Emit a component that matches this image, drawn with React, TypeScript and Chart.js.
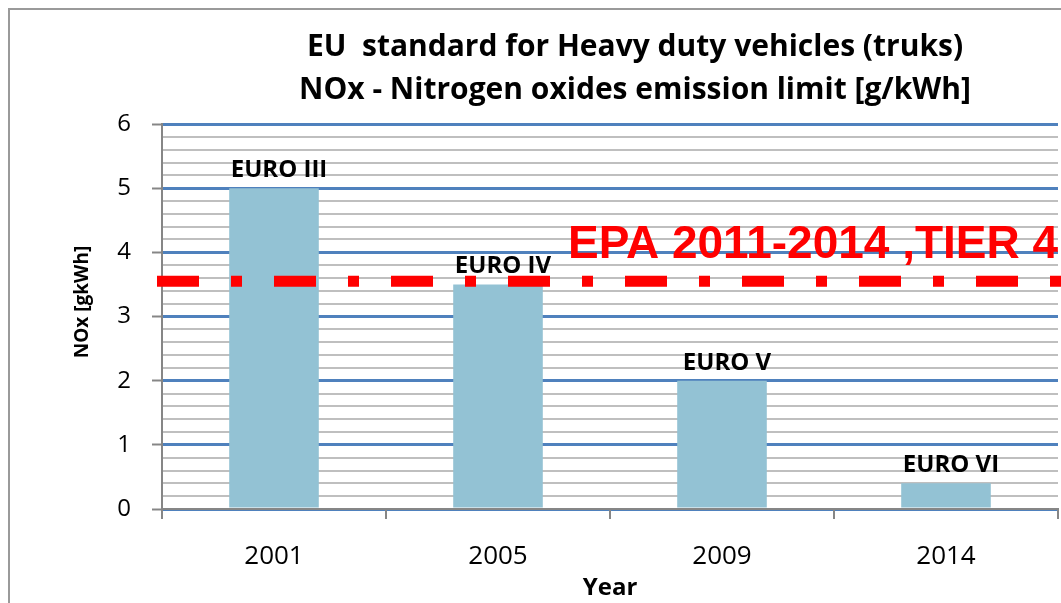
import React, { useEffect, useRef } from 'react';
import { Chart, registerables } from 'chart.js';

Chart.register(...registerables);

const categories = ['2001', '2005', '2009', '2014'];
const noxLimits = [5, 3.5, 2.0, 0.4];
const barLabels = ['EURO III', 'EURO IV', 'EURO V', 'EURO VI'];
const epaLimit = 3.55;
const epaLabel = 'EPA 2011-2014 ,TIER 4';
const titleLines = [
  'EU  standard for Heavy duty vehicles (truks)',
  'NOx - Nitrogen oxides emission limit [g/kWh]',
];
const yAxisTitle = 'NOx [gkWh]';
const xAxisTitle = 'Year';
const yMin = 0;
const yMax = 6;
const yMinorStep = 0.2;

const isMajor = (v: number) => Math.abs(v - Math.round(v)) < 1e-6;

const FONT = '"Open Sans", Lato, sans-serif';

const framePlugin = {
  id: 'frame',
  beforeDraw(chart: any) {
    const ctx = chart.ctx;
    ctx.save();
    ctx.fillStyle = '#ffffff';
    ctx.fillRect(0, 0, chart.width, chart.height);
    ctx.strokeStyle = '#9a9a9a';
    ctx.lineWidth = 2;
    ctx.strokeRect(9, 9, chart.width + 40, chart.height + 40);
    ctx.restore();
  },
};

const titlePlugin = {
  id: 'customTitle',
  afterDraw(chart: any) {
    const ctx = chart.ctx;
    ctx.save();
    ctx.fillStyle = '#000';
    ctx.font = `bold 30px ${FONT}`;
    ctx.textAlign = 'center';
    ctx.textBaseline = 'middle';
    titleLines.forEach((line, i) => {
      ctx.fillText(line, 635, 47 + i * 43);
    });
    // y axis title
    ctx.font = `bold 19px ${FONT}`;
    ctx.translate(83, 302);
    ctx.rotate(-Math.PI / 2);
    ctx.fillText(yAxisTitle, 0, 0);
    ctx.restore();
  },
};

const barLabelPlugin = {
  id: 'barLabels',
  afterDatasetsDraw(chart: any) {
    const ctx = chart.ctx;
    const meta = chart.getDatasetMeta(0);
    ctx.save();
    ctx.fillStyle = '#000';
    ctx.font = `bold 24px ${FONT}`;
    ctx.textAlign = 'center';
    ctx.textBaseline = 'alphabetic';
    meta.data.forEach((bar: any, i: number) => {
      ctx.fillText(barLabels[i], bar.x + 5, bar.y - 11);
    });
    ctx.restore();
  },
};

const epaPlugin = {
  id: 'epaLine',
  afterDatasetsDraw(chart: any) {
    const ctx = chart.ctx;
    const y = chart.scales.y.getPixelForValue(epaLimit);
    const area = chart.chartArea;
    ctx.save();
    ctx.strokeStyle = '#ff0000';
    ctx.lineWidth = 11;
    ctx.setLineDash([42, 32, 11, 32]);
    ctx.beginPath();
    ctx.moveTo(area.left - 5, y);
    ctx.lineTo(chart.width, y);
    ctx.stroke();
    ctx.setLineDash([]);
    ctx.fillStyle = '#ff0000';
    ctx.font = 'bold 46px "Liberation Sans", Arial, sans-serif';
    ctx.textAlign = 'left';
    ctx.textBaseline = 'alphabetic';
    ctx.fillText(epaLabel, 568, y - 23);
    ctx.restore();
  },
};

export default function App() {
  const canvasRef = useRef<HTMLCanvasElement | null>(null);

  useEffect(() => {
    const canvas = canvasRef.current;
    if (!canvas) return;
    const chart = new Chart(canvas, {
      type: 'bar',
      data: {
        labels: categories,
        datasets: [
          {
            label: 'NOx limit',
            data: noxLimits,
            backgroundColor: '#93C2D4',
            borderWidth: 0,
            categoryPercentage: 1,
            barPercentage: 0.4,
          },
        ],
      },
      options: {
        responsive: false,
        animation: false,
        layout: { padding: { top: 124, right: 3, bottom: 0, left: 0 } },
        plugins: {
          legend: { display: false },
          title: { display: false },
          tooltip: { enabled: false },
        },
        scales: {
          y: {
            min: yMin,
            max: yMax,
            ticks: {
              stepSize: yMinorStep,
              autoSkip: false,
              callback: (v: any) => (isMajor(Number(v)) ? String(Math.round(Number(v))) : ''),
              font: { family: FONT, size: 24 },
              color: '#000',
              padding: 21,
            },
            grid: {
              color: (c: any) => (c.tick && isMajor(c.tick.value) ? '#4F81BD' : '#BFBFBF'),
              lineWidth: (c: any) => (c.tick && isMajor(c.tick.value) ? 3 : 2),
              tickLength: 10,
              tickColor: (c: any) => (c.tick && isMajor(c.tick.value) ? '#868686' : 'rgba(0,0,0,0)'),
              tickWidth: 2,
            },
            border: { display: true, color: '#868686', width: 2 },
            title: { display: false },
            afterFit: (s: any) => {
              s.width = 162;
            },
          },
          x: {
            grid: {
              display: true,
              drawOnChartArea: false,
              tickLength: 10,
              color: '#868686',
              lineWidth: 2,
            },
            border: { display: true, color: '#868686', width: 2 },
            ticks: {
              font: { family: FONT, size: 26 },
              color: '#000',
              padding: 22,
            },
            title: {
              display: true,
              text: xAxisTitle,
              font: { family: FONT, size: 24, weight: 'bold' },
              color: '#000',
              padding: { top: 0, bottom: 0 },
            },
            afterFit: (s: any) => {
              s.height = 94;
            },
          },
        },
      } as any,
      plugins: [framePlugin, barLabelPlugin, epaPlugin, titlePlugin],
    });
    return () => chart.destroy();
  }, []);

  return (
    <div style={{ position: 'absolute', left: 0, top: 0, width: 1061, height: 603, overflow: 'hidden' }}>
      <canvas ref={canvasRef} width={1061} height={603} style={{ display: 'block' }} />
    </div>
  );
}
